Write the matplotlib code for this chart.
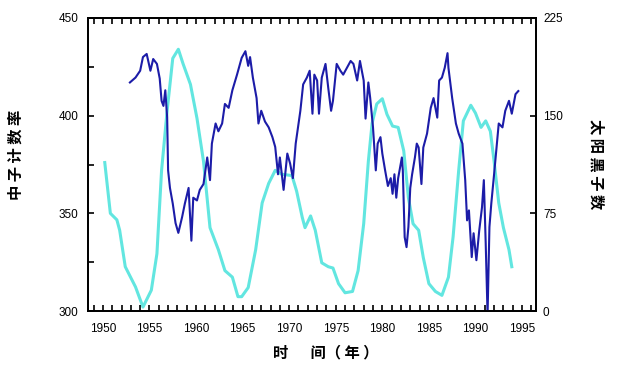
import numpy as np
import matplotlib
matplotlib.use("Agg")
import matplotlib.pyplot as plt
from matplotlib.ticker import MultipleLocator

# ----------- Data -----------------------------------
neutron_year = [1952.9, 1953.5, 1954.0, 1954.3, 1954.7, 1955.1, 1955.4, 1955.8, 1956.1, 1956.3,
                1956.5, 1956.7, 1956.9, 1957.0, 1957.2, 1957.5, 1957.8, 1958.1, 1958.5, 1958.8,
                1959.2, 1959.5, 1959.7, 1960.1, 1960.4, 1960.8, 1961.2, 1961.5, 1961.7, 1962.1,
                1962.4, 1962.8, 1963.1, 1963.5, 1963.9, 1964.4, 1964.9, 1965.3, 1965.6, 1965.8,
                1966.1, 1966.5, 1966.7, 1967.0, 1967.4, 1967.8, 1968.2, 1968.5, 1968.8, 1969.0,
                1969.4, 1969.8, 1970.1, 1970.4, 1970.7, 1971.2, 1971.5, 1971.9, 1972.2, 1972.5,
                1972.7, 1973.0, 1973.2, 1973.5, 1973.9, 1974.2, 1974.5, 1974.7, 1975.1, 1975.5,
                1975.8, 1976.2, 1976.6, 1976.9, 1977.3, 1977.6, 1978.0, 1978.2, 1978.5, 1978.7,
                1979.0, 1979.3, 1979.5, 1979.8, 1980.0, 1980.3, 1980.6, 1980.9, 1981.1, 1981.3,
                1981.5, 1981.7, 1982.1, 1982.2, 1982.4, 1982.6, 1982.8, 1983.0, 1983.2, 1983.5,
                1983.7, 1983.9, 1984.2, 1984.4, 1984.8, 1985.2, 1985.5, 1985.9, 1986.1, 1986.4,
                1986.7, 1987.0, 1987.1, 1987.5, 1987.9, 1988.2, 1988.6, 1988.9, 1989.1, 1989.3,
                1989.6, 1989.8, 1990.1, 1990.4, 1990.7, 1990.9, 1991.1, 1991.3, 1991.5, 1991.7,
                1992.0, 1992.3, 1992.5, 1992.9, 1993.2, 1993.6, 1993.9, 1994.3, 1994.6]
neutron_rate = [417, 419.5, 423, 430, 431.6, 423, 429, 426.5, 419, 407.6,
                405, 413, 399, 372, 363, 355, 345, 340, 348, 355,
                363, 336, 358, 356.6, 362, 365, 378.6, 367, 385.7, 396,
                392, 396, 406, 404, 413, 421, 429.6, 433, 425.5, 430,
                419.5, 409, 396, 402.5, 397, 394, 389, 384, 370, 378.6,
                362, 380.6, 375.5, 368, 385.7, 402.5, 416, 419.5, 423, 401,
                421, 418, 401, 419.5, 426.5, 414, 402.5, 407.6, 426.5, 423,
                421, 424.5, 428, 426.5, 418, 428, 418, 398.5, 417, 409,
                394, 372, 385.7, 389, 380.6, 372, 364, 368, 360, 370,
                358, 368, 378.6, 372, 337.8, 332.7, 343, 363, 370, 378.6,
                385.7, 383.7, 365, 383.7, 390.8, 404, 409, 399, 418, 419.5,
                424.5, 432, 424.5, 409, 396, 390.8, 385.7, 367, 346.4, 351.5,
                327.6, 339.8, 326, 341, 353, 367, 334.7, 298, 343, 355,
                370, 385.7, 396, 394, 402.5, 407.6, 401, 411, 412.6]

sunspot_year = [1950.2, 1950.8, 1951.5, 1951.8, 1952.4, 1953.5, 1954.3, 1955.2, 1955.8, 1956.3,
                1956.9, 1957.5, 1958.1, 1958.6, 1959.4, 1960.1, 1960.8, 1961.5, 1962.4, 1963.1,
                1963.9, 1964.5, 1964.9, 1965.6, 1966.4, 1967.1, 1967.8, 1968.5, 1969.2, 1970.3,
                1970.8, 1971.4, 1971.7, 1972.3, 1972.8, 1973.5, 1974.2, 1974.7, 1975.3, 1976.0,
                1976.8, 1977.4, 1978.0, 1978.5, 1978.9, 1979.4, 1980.0, 1980.5, 1981.1, 1981.7,
                1982.3, 1982.8, 1983.3, 1983.9, 1984.4, 1985.0, 1985.7, 1986.4, 1987.1, 1987.6,
                1988.2, 1988.7, 1989.5, 1990.0, 1990.6, 1991.1, 1991.6, 1992.0, 1992.5, 1993.0,
                1993.6, 1993.9]
sunspot_num = [114, 75, 70, 62, 34, 18.5, 3, 16, 44, 108,
               154, 194, 201, 190, 174, 148, 115, 64, 47, 31,
               26, 11, 11, 18, 47, 83, 98, 108, 105, 104,
               92, 72, 64, 73, 62, 37, 34, 33, 21, 14,
               15, 31, 67, 115, 144, 159, 163, 151, 142, 141,
               123, 87, 67, 62, 41, 21, 15, 12, 26, 57,
               108, 146, 158, 152, 141, 146, 138, 115, 83, 64,
               47, 34]

x_ticks = [1950, 1955, 1960, 1965, 1970, 1975, 1980, 1985, 1990, 1995]
x_ticklabels = ["1950", "1955", "1960", "1965", "1970", "1975", "1980", "1985", "1990", "1995"]
left_ticks = [300, 350, 400, 450]
right_ticks = [0, 75, 150, 225]
# ---------------------------------------------------

BLUE = "#1c1ca8"
CYAN = "#62e6e0"

plt.rcParams['font.family'] = ['Noto Sans CJK SC', 'DejaVu Sans']

fig = plt.figure(figsize=(6.33, 3.69), dpi=100)
ax = fig.add_axes([88 / 633, 58 / 369, 448 / 633, 293 / 369])
ax2 = ax.twinx()

ax2.plot(sunspot_year, sunspot_num, color=CYAN, lw=2.2, solid_joinstyle="round")
ax.plot(neutron_year, neutron_rate, color=BLUE, lw=1.5)

# neutron line above sunspot line
ax.set_zorder(ax2.get_zorder() + 1)
ax.patch.set_visible(False)

ax.set_xlim(1948.4, 1996.5)
ax.set_ylim(300, 450)
ax2.set_ylim(0, 225)

ax.set_xticks(x_ticks)
ax.set_xticklabels(x_ticklabels)
ax.xaxis.set_minor_locator(MultipleLocator(1))
ax.set_yticks(left_ticks)
ax.yaxis.set_minor_locator(MultipleLocator(25))
ax2.set_yticks(right_ticks)

for lab in ax.get_xticklabels() + ax.get_yticklabels() + ax2.get_yticklabels():
    lab.set_fontfamily("Liberation Sans")
    lab.set_fontsize(8.5)

ax.tick_params(axis="x", which="both", direction="in", length=4, width=1.2,
               top=True, bottom=True, pad=9)
ax.tick_params(axis="y", which="both", direction="in", length=4, width=1.2, pad=7)
ax2.tick_params(axis="y", which="both", direction="in", length=4, width=1.2, pad=5)

for a in (ax, ax2):
    for sp in a.spines.values():
        sp.set_linewidth(1.3)

fig.text(16 / 633, 1 - 155 / 369, "中 子 计 数 率", rotation=90, ha="center", va="center",
         fontsize=11, fontweight="bold")
fig.text(597 / 633, 1 - 164 / 369, "太 阳 黑 子 数", rotation=-90, ha="center", va="center",
         fontsize=11, fontweight="bold")
fig.text(326 / 633, 1 - 352 / 369, "时\u3000  间（ 年 ）", ha="center", va="center",
         fontsize=11, fontweight="bold")

fig.savefig("out.png", dpi=100)
